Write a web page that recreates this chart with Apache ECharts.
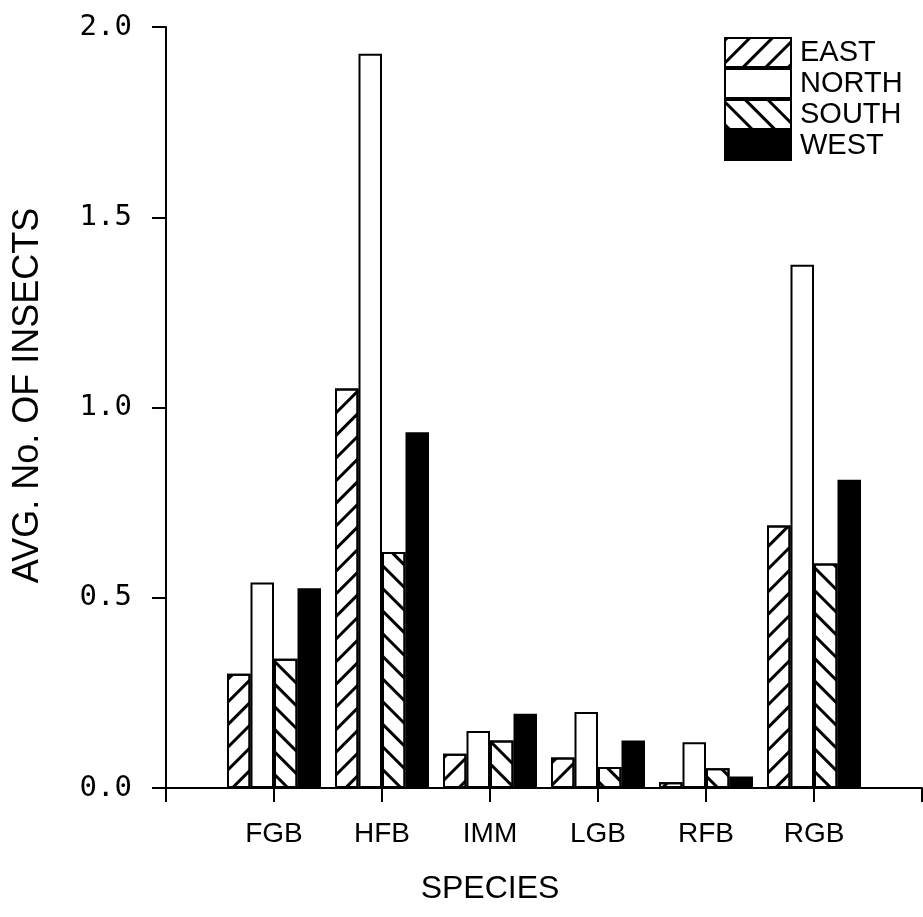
<!DOCTYPE html>
<html>
<head>
<meta charset="utf-8">
<script src="https://cdn.jsdelivr.net/npm/echarts@6/dist/echarts.min.js"></script>
<style>
html,body{margin:0;padding:0;background:#fff;}
#chart{width:923px;height:917px;}
</style>
</head>
<body>
<div id="chart"></div>
<script>
const species = ['FGB', 'HFB', 'IMM', 'LGB', 'RFB', 'RGB'];
const east  = [0.30, 1.05, 0.09, 0.08, 0.015, 0.69];
const north = [0.54, 1.93, 0.15, 0.20, 0.12, 1.375];
const south = [0.34, 0.62, 0.125, 0.055, 0.052, 0.59];
const west  = [0.525, 0.935, 0.195, 0.125, 0.03, 0.81];
const yTicks = [0, 0.5, 1.0, 1.5, 2.0];
const seriesNames = ['EAST', 'NORTH', 'SOUTH', 'WEST'];

const FONT = "'Liberation Sans', Arial, sans-serif";
const pad = arr => [null].concat(arr, [null]);

function hatch(rot) {
  return {
    symbol: 'rect',
    symbolSize: 1,
    color: '#000',
    dashArrayX: [1, 0],
    dashArrayY: [2.2, 13],
    rotation: rot
  };
}

const styles = [
  { color: '#fff', borderColor: '#000', borderWidth: 2, decal: hatch(-Math.PI / 4) },
  { color: '#fff', borderColor: '#000', borderWidth: 2 },
  { color: '#fff', borderColor: '#000', borderWidth: 2, decal: hatch(Math.PI / 4) },
  { color: '#000', borderColor: '#000', borderWidth: 2 }
];
const values = [east, north, south, west];

const chart = echarts.init(document.getElementById('chart'), null, { renderer: 'canvas' });
chart.setOption({
  backgroundColor: '#fff',
  animation: false,
  grid: { left: 166, right: 1, top: 27, bottom: 129, containLabel: false, outerBoundsMode: 'none' },
  legend: {
    data: seriesNames,
    orient: 'vertical',
    left: 724,
    top: 37,
    padding: 0,
    itemWidth: 66,
    itemHeight: 29,
    itemGap: 0,
    icon: 'rect',
    textStyle: { fontFamily: FONT, fontSize: 29, color: '#000', padding: [0, 0, 0, 4], lineHeight: 29 }
  },
  xAxis: {
    type: 'category',
    data: [''].concat(species, ['']),
    boundaryGap: false,
    axisLine: { lineStyle: { color: '#000', width: 2 } },
    axisTick: { show: true, length: 14, interval: 0, lineStyle: { color: '#000', width: 2 } },
    axisLabel: { interval: 0, margin: 32, fontFamily: FONT, fontSize: 28, color: '#000' },
    splitLine: { show: false },
    name: 'SPECIES',
    nameLocation: 'middle',
    nameGap: 85,
    nameTextStyle: { fontFamily: FONT, fontSize: 32, color: '#000', padding: [0, 108, 0, 0] }
  },
  yAxis: {
    type: 'value',
    min: 0,
    max: 2,
    interval: 0.5,
    axisLine: { show: true, lineStyle: { color: '#000', width: 2 } },
    axisTick: { show: true, length: 14, lineStyle: { color: '#000', width: 2 } },
    axisLabel: {
      margin: 34,
      fontFamily: "'DejaVu Sans Mono', monospace",
      fontSize: 29,
      color: '#000',
      formatter: v => v.toFixed(1)
    },
    splitLine: { show: false },
    name: 'AVG. No. OF INSECTS',
    nameLocation: 'middle',
    nameGap: 120,
    nameTextStyle: { fontFamily: FONT, fontSize: 36, color: '#000', padding: [0, 0, 0, 24] }
  },
  series: seriesNames.map((n, i) => ({
    name: n,
    type: 'bar',
    data: pad(values[i]),
    barWidth: 23.5,
    barGap: '0%',
    itemStyle: styles[i],
    emphasis: { disabled: true }
  }))
});
</script>
</body>
</html>
